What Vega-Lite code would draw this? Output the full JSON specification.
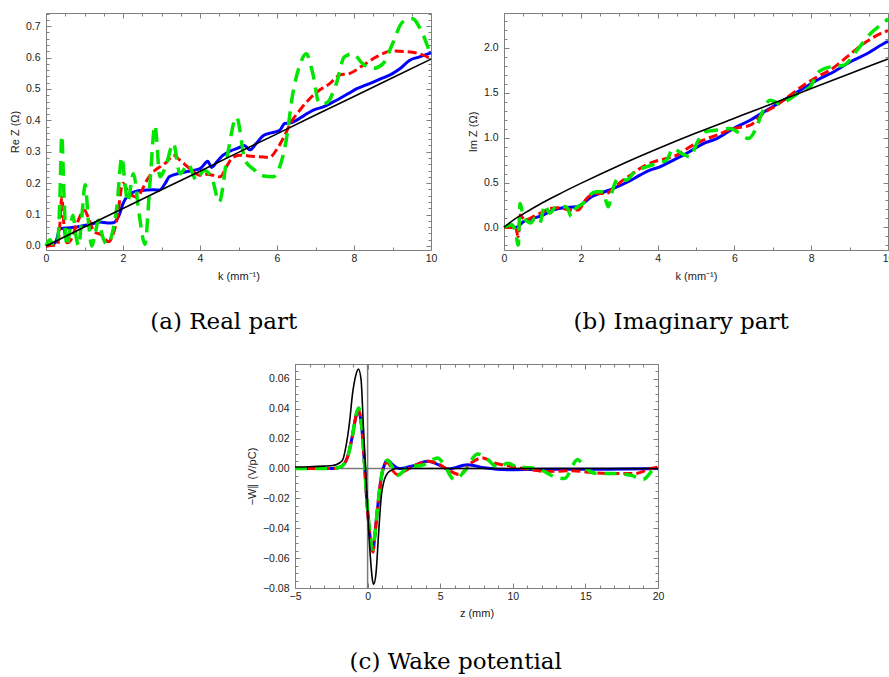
{
  "$schema": "https://vega.github.io/schema/vega-lite/v6.json",
  "padding": {"left": 8, "top": 11, "right": 0, "bottom": 0},
  "background": "white",
  "config": {
    "view": {"stroke": "#7f7f7f", "strokeWidth": 1},
    "axis": {
      "domain": false, "grid": false, "tickColor": "#7f7f7f", "tickWidth": 1,
      "labelFont": "Liberation Sans", "labelFontSize": 10.5, "labelColor": "#222",
      "titleFont": "Liberation Sans", "titleFontSize": 11, "titleFontWeight": "normal", "titleColor": "#222"
    },
    "title": {"font": "DejaVu Serif", "fontSize": 23, "fontWeight": "normal", "color": "#000", "orient": "bottom", "anchor": "middle", "frame": "bounds", "offset": 29}
  },
  "datasets": {
    "a": [
      {"s":"k","k":0,"v":0},{"s":"k","k":1,"v":0.06},{"s":"k","k":2,"v":0.119},{"s":"k","k":3,"v":0.179},{"s":"k","k":4,"v":0.238},{"s":"k","k":5,"v":0.298},{"s":"k","k":6,"v":0.357},{"s":"k","k":7,"v":0.417},{"s":"k","k":8,"v":0.476},{"s":"k","k":9,"v":0.536},{"s":"k","k":10,"v":0.595},
      {"s":"b","k":0,"v":0},{"s":"b","k":0.15,"v":0.003},{"s":"b","k":0.25,"v":0.012},{"s":"b","k":0.3,"v":0.03},{"s":"b","k":0.35,"v":0.055},{"s":"b","k":0.5,"v":0.057},{"s":"b","k":0.8,"v":0.06},{"s":"b","k":1.0,"v":0.065},{"s":"b","k":1.2,"v":0.07},{"s":"b","k":1.4,"v":0.076},{"s":"b","k":1.6,"v":0.073},{"s":"b","k":1.75,"v":0.074},{"s":"b","k":1.9,"v":0.098},{"s":"b","k":2.0,"v":0.135},{"s":"b","k":2.1,"v":0.156},{"s":"b","k":2.2,"v":0.167},{"s":"b","k":2.4,"v":0.176},{"s":"b","k":2.6,"v":0.178},{"s":"b","k":2.8,"v":0.179},{"s":"b","k":2.95,"v":0.178},{"s":"b","k":3.1,"v":0.2},{"s":"b","k":3.2,"v":0.22},{"s":"b","k":3.5,"v":0.232},{"s":"b","k":3.8,"v":0.24},{"s":"b","k":4.0,"v":0.246},{"s":"b","k":4.15,"v":0.265},{"s":"b","k":4.2,"v":0.27},{"s":"b","k":4.3,"v":0.25},{"s":"b","k":4.45,"v":0.27},{"s":"b","k":4.6,"v":0.289},{"s":"b","k":4.8,"v":0.303},{"s":"b","k":5.0,"v":0.312},{"s":"b","k":5.15,"v":0.32},{"s":"b","k":5.3,"v":0.306},{"s":"b","k":5.45,"v":0.325},{"s":"b","k":5.65,"v":0.352},{"s":"b","k":5.85,"v":0.36},{"s":"b","k":6.07,"v":0.368},{"s":"b","k":6.2,"v":0.39},{"s":"b","k":6.35,"v":0.392},{"s":"b","k":6.5,"v":0.4},{"s":"b","k":6.7,"v":0.415},{"s":"b","k":6.93,"v":0.432},{"s":"b","k":7.2,"v":0.443},{"s":"b","k":7.4,"v":0.455},{"s":"b","k":7.62,"v":0.469},{"s":"b","k":7.85,"v":0.485},{"s":"b","k":8.06,"v":0.5},{"s":"b","k":8.3,"v":0.512},{"s":"b","k":8.5,"v":0.522},{"s":"b","k":8.75,"v":0.535},{"s":"b","k":9.0,"v":0.549},{"s":"b","k":9.2,"v":0.565},{"s":"b","k":9.44,"v":0.591},{"s":"b","k":9.7,"v":0.602},{"s":"b","k":10,"v":0.615},
      {"s":"r","k":0,"v":0},{"s":"r","k":0.3,"v":0.003},{"s":"r","k":0.35,"v":0.05},{"s":"r","k":0.41,"v":0.156},{"s":"r","k":0.47,"v":0.06},{"s":"r","k":0.55,"v":0.01},{"s":"r","k":0.65,"v":0.02},{"s":"r","k":0.8,"v":0.07},{"s":"r","k":1.0,"v":0.114},{"s":"r","k":1.1,"v":0.09},{"s":"r","k":1.25,"v":0.045},{"s":"r","k":1.45,"v":0.035},{"s":"r","k":1.62,"v":0.013},{"s":"r","k":1.75,"v":0.04},{"s":"r","k":1.84,"v":0.082},{"s":"r","k":2.0,"v":0.2},{"s":"r","k":2.14,"v":0.17},{"s":"r","k":2.36,"v":0.156},{"s":"r","k":2.5,"v":0.18},{"s":"r","k":2.62,"v":0.209},{"s":"r","k":2.83,"v":0.241},{"s":"r","k":3.0,"v":0.255},{"s":"r","k":3.13,"v":0.267},{"s":"r","k":3.31,"v":0.289},{"s":"r","k":3.48,"v":0.273},{"s":"r","k":3.74,"v":0.246},{"s":"r","k":4.0,"v":0.225},{"s":"r","k":4.2,"v":0.228},{"s":"r","k":4.34,"v":0.225},{"s":"r","k":4.52,"v":0.22},{"s":"r","k":4.7,"v":0.255},{"s":"r","k":4.82,"v":0.278},{"s":"r","k":5.03,"v":0.289},{"s":"r","k":5.4,"v":0.285},{"s":"r","k":5.81,"v":0.282},{"s":"r","k":5.98,"v":0.305},{"s":"r","k":6.16,"v":0.342},{"s":"r","k":6.37,"v":0.395},{"s":"r","k":6.59,"v":0.432},{"s":"r","k":6.85,"v":0.469},{"s":"r","k":7.1,"v":0.496},{"s":"r","k":7.37,"v":0.517},{"s":"r","k":7.62,"v":0.544},{"s":"r","k":7.88,"v":0.549},{"s":"r","k":8.23,"v":0.575},{"s":"r","k":8.58,"v":0.602},{"s":"r","k":9.0,"v":0.621},{"s":"r","k":9.35,"v":0.619},{"s":"r","k":9.7,"v":0.612},{"s":"r","k":10,"v":0.597},
      {"s":"g","k":0,"v":0},{"s":"g","k":0.1,"v":0.02},{"s":"g","k":0.2,"v":0},{"s":"g","k":0.3,"v":0.01},{"s":"g","k":0.36,"v":0.15},{"s":"g","k":0.41,"v":0.352},{"s":"g","k":0.47,"v":0.15},{"s":"g","k":0.54,"v":0},{"s":"g","k":0.62,"v":0.05},{"s":"g","k":0.7,"v":0.098},{"s":"g","k":0.78,"v":0.03},{"s":"g","k":0.85,"v":0},{"s":"g","k":0.92,"v":0.08},{"s":"g","k":1.02,"v":0.195},{"s":"g","k":1.1,"v":0.08},{"s":"g","k":1.19,"v":0},{"s":"g","k":1.28,"v":0.04},{"s":"g","k":1.36,"v":0.082},{"s":"g","k":1.47,"v":0.03},{"s":"g","k":1.58,"v":0.005},{"s":"g","k":1.7,"v":0.03},{"s":"g","k":1.84,"v":0.124},{"s":"g","k":1.97,"v":0.283},{"s":"g","k":2.05,"v":0.2},{"s":"g","k":2.12,"v":0.14},{"s":"g","k":2.27,"v":0.23},{"s":"g","k":2.42,"v":0.1},{"s":"g","k":2.57,"v":0.005},{"s":"g","k":2.7,"v":0.2},{"s":"g","k":2.83,"v":0.384},{"s":"g","k":2.96,"v":0.22},{"s":"g","k":3.1,"v":0.25},{"s":"g","k":3.31,"v":0.326},{"s":"g","k":3.48,"v":0.23},{"s":"g","k":3.69,"v":0.26},{"s":"g","k":3.91,"v":0.209},{"s":"g","k":4.1,"v":0.24},{"s":"g","k":4.3,"v":0.22},{"s":"g","k":4.5,"v":0.14},{"s":"g","k":4.7,"v":0.28},{"s":"g","k":4.95,"v":0.41},{"s":"g","k":5.17,"v":0.273},{"s":"g","k":5.42,"v":0.241},{"s":"g","k":5.55,"v":0.225},{"s":"g","k":5.9,"v":0.22},{"s":"g","k":6.07,"v":0.252},{"s":"g","k":6.24,"v":0.337},{"s":"g","k":6.41,"v":0.485},{"s":"g","k":6.59,"v":0.575},{"s":"g","k":6.76,"v":0.612},{"s":"g","k":6.93,"v":0.549},{"s":"g","k":7.1,"v":0.453},{"s":"g","k":7.28,"v":0.455},{"s":"g","k":7.54,"v":0.517},{"s":"g","k":7.75,"v":0.602},{"s":"g","k":7.97,"v":0.612},{"s":"g","k":8.23,"v":0.58},{"s":"g","k":8.49,"v":0.565},{"s":"g","k":8.75,"v":0.58},{"s":"g","k":9.0,"v":0.644},{"s":"g","k":9.26,"v":0.713},{"s":"g","k":9.52,"v":0.724},{"s":"g","k":9.74,"v":0.687},{"s":"g","k":10,"v":0.605}
    ],
    "b": [
      {"s":"k","k":0,"v":0},{"s":"k","k":0.25,"v":0.085},{"s":"k","k":0.5,"v":0.15},{"s":"k","k":1,"v":0.275},{"s":"k","k":1.5,"v":0.385},{"s":"k","k":2,"v":0.49},{"s":"k","k":3,"v":0.69},{"s":"k","k":4,"v":0.875},{"s":"k","k":5,"v":1.05},{"s":"k","k":6,"v":1.215},{"s":"k","k":7,"v":1.38},{"s":"k","k":8,"v":1.545},{"s":"k","k":9,"v":1.71},{"s":"k","k":10,"v":1.875},
      {"s":"b","k":0,"v":0},{"s":"b","k":0.28,"v":0},{"s":"b","k":0.37,"v":0.01},{"s":"b","k":0.5,"v":0.063},{"s":"b","k":0.76,"v":0.1},{"s":"b","k":1.02,"v":0.138},{"s":"b","k":1.28,"v":0.193},{"s":"b","k":1.54,"v":0.219},{"s":"b","k":1.89,"v":0.23},{"s":"b","k":2.06,"v":0.267},{"s":"b","k":2.28,"v":0.341},{"s":"b","k":2.5,"v":0.378},{"s":"b","k":2.84,"v":0.433},{"s":"b","k":3.23,"v":0.508},{"s":"b","k":3.54,"v":0.582},{"s":"b","k":3.8,"v":0.638},{"s":"b","k":4.06,"v":0.674},{"s":"b","k":4.32,"v":0.73},{"s":"b","k":4.67,"v":0.804},{"s":"b","k":4.97,"v":0.878},{"s":"b","k":5.19,"v":0.933},{"s":"b","k":5.54,"v":0.989},{"s":"b","k":5.97,"v":1.1},{"s":"b","k":6.41,"v":1.193},{"s":"b","k":6.84,"v":1.304},{"s":"b","k":7.28,"v":1.416},{"s":"b","k":7.71,"v":1.527},{"s":"b","k":8.15,"v":1.638},{"s":"b","k":8.58,"v":1.73},{"s":"b","k":9.01,"v":1.841},{"s":"b","k":9.45,"v":1.933},{"s":"b","k":9.88,"v":2.044},{"s":"b","k":10,"v":2.07},
      {"s":"r","k":0,"v":0},{"s":"r","k":0.3,"v":0},{"s":"r","k":0.37,"v":-0.103},{"s":"r","k":0.42,"v":0.138},{"s":"r","k":0.54,"v":0.082},{"s":"r","k":0.76,"v":0.119},{"s":"r","k":1.02,"v":0.174},{"s":"r","k":1.19,"v":0.211},{"s":"r","k":1.45,"v":0.22},{"s":"r","k":1.71,"v":0.193},{"s":"r","k":1.93,"v":0.193},{"s":"r","k":2.15,"v":0.322},{"s":"r","k":2.41,"v":0.378},{"s":"r","k":2.67,"v":0.378},{"s":"r","k":2.84,"v":0.433},{"s":"r","k":3.1,"v":0.527},{"s":"r","k":3.36,"v":0.6},{"s":"r","k":3.54,"v":0.656},{"s":"r","k":3.89,"v":0.73},{"s":"r","k":4.23,"v":0.767},{"s":"r","k":4.5,"v":0.804},{"s":"r","k":4.84,"v":0.897},{"s":"r","k":5.19,"v":0.971},{"s":"r","k":5.54,"v":1.027},{"s":"r","k":5.97,"v":1.1},{"s":"r","k":6.41,"v":1.138},{"s":"r","k":6.75,"v":1.267},{"s":"r","k":7.1,"v":1.36},{"s":"r","k":7.45,"v":1.471},{"s":"r","k":7.8,"v":1.582},{"s":"r","k":8.15,"v":1.674},{"s":"r","k":8.49,"v":1.749},{"s":"r","k":8.93,"v":1.897},{"s":"r","k":9.36,"v":2.044},{"s":"r","k":9.8,"v":2.156},{"s":"r","k":10,"v":2.19},
      {"s":"g","k":0,"v":0},{"s":"g","k":0.2,"v":0.03},{"s":"g","k":0.3,"v":-0.05},{"s":"g","k":0.37,"v":-0.196},{"s":"g","k":0.42,"v":0.267},{"s":"g","k":0.5,"v":0.12},{"s":"g","k":0.6,"v":0.07},{"s":"g","k":0.7,"v":0.05},{"s":"g","k":0.8,"v":0.1},{"s":"g","k":0.93,"v":0.044},{"s":"g","k":1.06,"v":0.249},{"s":"g","k":1.19,"v":0.16},{"s":"g","k":1.36,"v":0.23},{"s":"g","k":1.62,"v":0.23},{"s":"g","k":1.76,"v":0.119},{"s":"g","k":1.84,"v":0.2},{"s":"g","k":2.06,"v":0.267},{"s":"g","k":2.19,"v":0.341},{"s":"g","k":2.41,"v":0.396},{"s":"g","k":2.58,"v":0.396},{"s":"g","k":2.71,"v":0.23},{"s":"g","k":2.84,"v":0.433},{"s":"g","k":2.97,"v":0.544},{"s":"g","k":3.19,"v":0.527},{"s":"g","k":3.4,"v":0.62},{"s":"g","k":3.71,"v":0.674},{"s":"g","k":3.97,"v":0.711},{"s":"g","k":4.23,"v":0.749},{"s":"g","k":4.41,"v":0.878},{"s":"g","k":4.63,"v":0.822},{"s":"g","k":4.84,"v":0.786},{"s":"g","k":5.06,"v":0.971},{"s":"g","k":5.23,"v":1.063},{"s":"g","k":5.54,"v":1.083},{"s":"g","k":5.88,"v":1.1},{"s":"g","k":6.15,"v":1.044},{"s":"g","k":6.36,"v":0.989},{"s":"g","k":6.58,"v":1.119},{"s":"g","k":6.71,"v":1.267},{"s":"g","k":6.93,"v":1.416},{"s":"g","k":7.19,"v":1.378},{"s":"g","k":7.45,"v":1.433},{"s":"g","k":7.71,"v":1.508},{"s":"g","k":7.97,"v":1.563},{"s":"g","k":8.19,"v":1.73},{"s":"g","k":8.49,"v":1.786},{"s":"g","k":8.84,"v":1.804},{"s":"g","k":9.19,"v":1.97},{"s":"g","k":9.54,"v":2.156},{"s":"g","k":9.8,"v":2.249},{"s":"g","k":10,"v":2.32}
    ],
    "c": [
      {"s":"k","z":-5,"v":0.001},{"s":"k","z":-4,"v":0.0012},{"s":"k","z":-3,"v":0.0016},{"s":"k","z":-2.4,"v":0.002},{"s":"k","z":-1.94,"v":0.0037},{"s":"k","z":-1.71,"v":0.006},{"s":"k","z":-1.49,"v":0.0149},{"s":"k","z":-1.25,"v":0.0305},{"s":"k","z":-1.03,"v":0.0506},{"s":"k","z":-0.8,"v":0.0629},{"s":"k","z":-0.63,"v":0.0667},{"s":"k","z":-0.45,"v":0.0595},{"s":"k","z":-0.29,"v":0.0283},{"s":"k","z":-0.15,"v":0.0015},{"s":"k","z":0,"v":-0.0275},{"s":"k","z":0.17,"v":-0.0565},{"s":"k","z":0.35,"v":-0.0755},{"s":"k","z":0.42,"v":-0.0775},{"s":"k","z":0.58,"v":-0.07},{"s":"k","z":0.76,"v":-0.0431},{"s":"k","z":0.92,"v":-0.0208},{"s":"k","z":1.16,"v":-0.0074},{"s":"k","z":1.5,"v":-0.0019},{"s":"k","z":2,"v":0},{"s":"k","z":5,"v":0},{"s":"k","z":10,"v":0},{"s":"k","z":20,"v":0},
      {"s":"b","z":-5,"v":0},{"s":"b","z":-2.5,"v":0},{"s":"b","z":-1.94,"v":0.0008},{"s":"b","z":-1.71,"v":0.002},{"s":"b","z":-1.37,"v":0.008},{"s":"b","z":-1.03,"v":0.0227},{"s":"b","z":-0.8,"v":0.035},{"s":"b","z":-0.62,"v":0.038},{"s":"b","z":-0.41,"v":0.0283},{"s":"b","z":-0.22,"v":0.0037},{"s":"b","z":-0.06,"v":-0.0208},{"s":"b","z":0.12,"v":-0.0409},{"s":"b","z":0.3,"v":-0.0543},{"s":"b","z":0.38,"v":-0.055},{"s":"b","z":0.47,"v":-0.0476},{"s":"b","z":0.7,"v":-0.0253},{"s":"b","z":0.92,"v":-0.0074},{"s":"b","z":1.16,"v":0.0026},{"s":"b","z":1.38,"v":0.0055},{"s":"b","z":1.73,"v":0.0025},{"s":"b","z":2.19,"v":0},{"s":"b","z":3,"v":0.0015},{"s":"b","z":4.14,"v":0.0048},{"s":"b","z":5,"v":0.002},{"s":"b","z":5.52,"v":-0.0003},{"s":"b","z":6.89,"v":0.0026},{"s":"b","z":8.04,"v":0.0005},{"s":"b","z":9.65,"v":-0.0008},{"s":"b","z":12,"v":-0.0005},{"s":"b","z":15,"v":-0.0005},{"s":"b","z":20,"v":0},
      {"s":"r","z":-5,"v":0},{"s":"r","z":-2.5,"v":0},{"s":"r","z":-1.94,"v":0.0008},{"s":"r","z":-1.71,"v":0.002},{"s":"r","z":-1.37,"v":0.008},{"s":"r","z":-1.03,"v":0.0227},{"s":"r","z":-0.8,"v":0.035},{"s":"r","z":-0.62,"v":0.039},{"s":"r","z":-0.41,"v":0.0283},{"s":"r","z":-0.22,"v":0.0037},{"s":"r","z":-0.06,"v":-0.0208},{"s":"r","z":0.12,"v":-0.0409},{"s":"r","z":0.3,"v":-0.0543},{"s":"r","z":0.38,"v":-0.056},{"s":"r","z":0.47,"v":-0.0476},{"s":"r","z":0.7,"v":-0.0253},{"s":"r","z":0.92,"v":-0.0074},{"s":"r","z":1.16,"v":0.0026},{"s":"r","z":1.38,"v":0.004},{"s":"r","z":1.7,"v":-0.001},{"s":"r","z":2.07,"v":-0.0041},{"s":"r","z":2.5,"v":-0.002},{"s":"r","z":2.99,"v":0.0007},{"s":"r","z":4.14,"v":0.0048},{"s":"r","z":4.83,"v":0.0033},{"s":"r","z":5.52,"v":-0.0007},{"s":"r","z":6.32,"v":-0.004},{"s":"r","z":7.12,"v":0.0037},{"s":"r","z":7.93,"v":0.0071},{"s":"r","z":8.73,"v":0.0037},{"s":"r","z":9.88,"v":0.0015},{"s":"r","z":11.25,"v":-0.0008},{"s":"r","z":12.4,"v":-0.002},{"s":"r","z":14,"v":-0.0015},{"s":"r","z":15.85,"v":-0.003},{"s":"r","z":17.2,"v":-0.0034},{"s":"r","z":18.38,"v":-0.0034},{"s":"r","z":19.52,"v":0},{"s":"r","z":20,"v":0.001},
      {"s":"g","z":-5,"v":0},{"s":"g","z":-2.5,"v":0},{"s":"g","z":-1.94,"v":0.0008},{"s":"g","z":-1.71,"v":0.002},{"s":"g","z":-1.37,"v":0.008},{"s":"g","z":-1.03,"v":0.0227},{"s":"g","z":-0.8,"v":0.036},{"s":"g","z":-0.62,"v":0.0406},{"s":"g","z":-0.41,"v":0.029},{"s":"g","z":-0.22,"v":0.004},{"s":"g","z":-0.06,"v":-0.02},{"s":"g","z":0.12,"v":-0.04},{"s":"g","z":0.3,"v":-0.053},{"s":"g","z":0.38,"v":-0.054},{"s":"g","z":0.47,"v":-0.047},{"s":"g","z":0.7,"v":-0.025},{"s":"g","z":0.92,"v":-0.007},{"s":"g","z":1.16,"v":0.003},{"s":"g","z":1.38,"v":0.0055},{"s":"g","z":1.7,"v":0.001},{"s":"g","z":2.07,"v":-0.0045},{"s":"g","z":2.76,"v":0.0007},{"s":"g","z":3.9,"v":0.0026},{"s":"g","z":4.83,"v":0.0071},{"s":"g","z":5.17,"v":0.004},{"s":"g","z":5.98,"v":-0.0074},{"s":"g","z":6.66,"v":-0.002},{"s":"g","z":7.58,"v":0.0098},{"s":"g","z":8.27,"v":0.006},{"s":"g","z":8.96,"v":0.0007},{"s":"g","z":9.65,"v":0.0035},{"s":"g","z":10.34,"v":0.001},{"s":"g","z":11.25,"v":0.0005},{"s":"g","z":12.18,"v":-0.002},{"s":"g","z":12.63,"v":-0.0045},{"s":"g","z":13.55,"v":-0.0067},{"s":"g","z":14.47,"v":0.006},{"s":"g","z":14.93,"v":0.0007},{"s":"g","z":15.85,"v":-0.0034},{"s":"g","z":17,"v":-0.0034},{"s":"g","z":18.14,"v":-0.0045},{"s":"g","z":18.95,"v":-0.0074},{"s":"g","z":19.75,"v":0},{"s":"g","z":20,"v":0.0015}
    ]
  },
  "spacing": 28,
  "vconcat": [
    {
      "spacing": 27,
      "hconcat": [
        {
          "width": 385, "height": 237,
          "data": {"name": "a"},
          "title": {"text": "(a) Real part"},
          "encoding": {
            "x": {"field": "k", "type": "quantitative", "scale": {"domain": [0, 10], "nice": false, "zero": false}, "axis": null},
            "y": {"field": "v", "type": "quantitative", "scale": {"domain": [-0.013, 0.742], "nice": false, "zero": false}, "axis": null}
          },
          "layer": [
            {"transform": [{"filter": "datum.s === 'b'"}], "mark": {"type": "line", "color": "#0000ff", "strokeWidth": 3, "interpolate": "monotone"},
             "encoding": {
               "x": {"field": "k", "type": "quantitative", "scale": {"domain": [0, 10], "nice": false, "zero": false}, "title": "k (mm⁻¹)",
                 "axis": {"orient": "bottom", "values": [0,0.5,1,1.5,2,2.5,3,3.5,4,4.5,5,5.5,6,6.5,7,7.5,8,8.5,9,9.5,10], "format": "d", "labelExpr": "datum.value % 2 === 0 ? datum.label : ''", "tickSize": {"condition": {"test": "datum.value % 2 === 0", "value": -5}, "value": -3}, "labelPadding": 8, "titlePadding": 7, "labelFlush": false}},
               "y": {"field": "v", "type": "quantitative", "scale": {"domain": [-0.013, 0.742], "nice": false, "zero": false}, "title": "Re Z (Ω)",
                 "axis": {"orient": "left", "values": [0,0.02,0.04,0.06,0.08,0.1,0.12,0.14,0.16,0.18,0.2,0.22,0.24,0.26,0.28,0.3,0.32,0.34,0.36,0.38,0.4,0.42,0.44,0.46,0.48,0.5,0.52,0.54,0.56,0.58,0.6,0.62,0.64,0.66,0.68,0.7,0.72,0.74], "format": ".1f", "labelExpr": "round(datum.value*100) % 10 === 0 ? datum.label : ''", "tickSize": {"condition": {"test": "round(datum.value*100) % 10 === 0", "value": -5}, "value": -3}, "labelPadding": 11, "titlePadding": 5, "labelFlush": false}}
             }},
            {"transform": [{"filter": "datum.s === 'r'"}], "mark": {"type": "line", "color": "#ff0000", "strokeWidth": 3, "strokeDash": [9, 4], "interpolate": "monotone"}},
            {"transform": [{"filter": "datum.s === 'g'"}], "mark": {"type": "line", "color": "#00e600", "strokeWidth": 3.5, "strokeDash": [14, 8], "interpolate": "monotone"}},
            {"transform": [{"filter": "datum.s === 'k'"}], "mark": {"type": "line", "color": "#000000", "strokeWidth": 1.6},
             "encoding": {
               "x": {"field": "k", "type": "quantitative", "scale": {"domain": [0, 10], "nice": false, "zero": false}, "title": null,
                 "axis": {"orient": "top", "values": [0,0.5,1,1.5,2,2.5,3,3.5,4,4.5,5,5.5,6,6.5,7,7.5,8,8.5,9,9.5,10], "labels": false, "tickSize": {"condition": {"test": "datum.value % 2 === 0", "value": -5}, "value": -3}}},
               "y": {"field": "v", "type": "quantitative", "scale": {"domain": [-0.013, 0.742], "nice": false, "zero": false}, "title": null,
                 "axis": {"orient": "right", "values": [0,0.02,0.04,0.06,0.08,0.1,0.12,0.14,0.16,0.18,0.2,0.22,0.24,0.26,0.28,0.3,0.32,0.34,0.36,0.38,0.4,0.42,0.44,0.46,0.48,0.5,0.52,0.54,0.56,0.58,0.6,0.62,0.64,0.66,0.68,0.7,0.72,0.74], "labels": false, "tickSize": {"condition": {"test": "round(datum.value*100) % 10 === 0", "value": -5}, "value": -3}}}
             }}
          ],
          "resolve": {"axis": {"x": "independent", "y": "independent"}}
        },
        {
          "width": 384, "height": 237,
          "data": {"name": "b"},
          "title": {"text": "(b) Imaginary part"},
          "encoding": {
            "x": {"field": "k", "type": "quantitative", "scale": {"domain": [0, 10], "nice": false, "zero": false}, "axis": null},
            "y": {"field": "v", "type": "quantitative", "scale": {"domain": [-0.251, 2.386], "nice": false, "zero": false}, "axis": null}
          },
          "layer": [
            {"transform": [{"filter": "datum.s === 'b'"}], "mark": {"type": "line", "color": "#0000ff", "strokeWidth": 3, "interpolate": "monotone"},
             "encoding": {
               "x": {"field": "k", "type": "quantitative", "scale": {"domain": [0, 10], "nice": false, "zero": false}, "title": "k (mm⁻¹)",
                 "axis": {"orient": "bottom", "values": [0,0.5,1,1.5,2,2.5,3,3.5,4,4.5,5,5.5,6,6.5,7,7.5,8,8.5,9,9.5,10], "format": "d", "labelExpr": "datum.value % 2 === 0 ? datum.label : ''", "tickSize": {"condition": {"test": "datum.value % 2 === 0", "value": -5}, "value": -3}, "labelPadding": 8, "titlePadding": 7, "labelFlush": false}},
               "y": {"field": "v", "type": "quantitative", "scale": {"domain": [-0.251, 2.386], "nice": false, "zero": false}, "title": "Im Z (Ω)",
                 "axis": {"orient": "left", "values": [-0.2,-0.1,0,0.1,0.2,0.3,0.4,0.5,0.6,0.7,0.8,0.9,1,1.1,1.2,1.3,1.4,1.5,1.6,1.7,1.8,1.9,2,2.1,2.2,2.3], "format": ".1f", "labelExpr": "round(datum.value*10) % 5 === 0 ? datum.label : ''", "tickSize": {"condition": {"test": "round(datum.value*10) % 5 === 0", "value": -5}, "value": -3}, "labelPadding": 11, "titlePadding": 5, "labelFlush": false}}
             }},
            {"transform": [{"filter": "datum.s === 'r'"}], "mark": {"type": "line", "color": "#ff0000", "strokeWidth": 3, "strokeDash": [9, 4], "interpolate": "monotone"}},
            {"transform": [{"filter": "datum.s === 'g'"}], "mark": {"type": "line", "color": "#00e600", "strokeWidth": 3.5, "strokeDash": [14, 8], "interpolate": "monotone"}},
            {"transform": [{"filter": "datum.s === 'k'"}], "mark": {"type": "line", "color": "#000000", "strokeWidth": 1.6, "interpolate": "monotone"},
             "encoding": {
               "x": {"field": "k", "type": "quantitative", "scale": {"domain": [0, 10], "nice": false, "zero": false}, "title": null,
                 "axis": {"orient": "top", "values": [0,0.5,1,1.5,2,2.5,3,3.5,4,4.5,5,5.5,6,6.5,7,7.5,8,8.5,9,9.5,10], "labels": false, "tickSize": {"condition": {"test": "datum.value % 2 === 0", "value": -5}, "value": -3}}},
               "y": {"field": "v", "type": "quantitative", "scale": {"domain": [-0.251, 2.386], "nice": false, "zero": false}, "title": null,
                 "axis": {"orient": "right", "values": [-0.2,-0.1,0,0.1,0.2,0.3,0.4,0.5,0.6,0.7,0.8,0.9,1,1.1,1.2,1.3,1.4,1.5,1.6,1.7,1.8,1.9,2,2.1,2.2,2.3], "labels": false, "tickSize": {"condition": {"test": "round(datum.value*10) % 5 === 0", "value": -5}, "value": -3}}}
             }}
          ],
          "resolve": {"axis": {"x": "independent", "y": "independent"}}
        }
      ]
    },
    {
      "spacing": 0,
      "hconcat": [
        {"width": 199, "height": 10, "data": {"values": [{}]}, "mark": {"type": "point", "opacity": 0}, "view": {"stroke": null}},
        {
          "width": 363, "height": 224,
          "data": {"name": "c"},
          "title": {"text": "(c) Wake potential", "offset": 32},
          "layer": [
            {"data": {"values": [{"z": 0}]}, "mark": {"type": "rule", "color": "#7a7a7a", "strokeWidth": 1.5}, "encoding": {"x": {"field": "z", "type": "quantitative", "scale": {"domain": [-5, 20], "nice": false, "zero": false}, "axis": null}}},
            {"data": {"values": [{"v": 0}]}, "mark": {"type": "rule", "color": "#7a7a7a", "strokeWidth": 1.5}, "encoding": {"y": {"field": "v", "type": "quantitative", "scale": {"domain": [-0.08, 0.07], "nice": false, "zero": false}, "axis": null}}},
            {"transform": [{"filter": "datum.s === 'b'"}], "mark": {"type": "line", "color": "#0000ff", "strokeWidth": 3, "interpolate": "monotone"},
             "encoding": {
               "x": {"field": "z", "type": "quantitative", "scale": {"domain": [-5, 20], "nice": false, "zero": false}, "title": "z (mm)",
                 "axis": {"orient": "bottom", "values": [-5,-4,-3,-2,-1,0,1,2,3,4,5,6,7,8,9,10,11,12,13,14,15,16,17,18,19,20], "format": "d", "labelExpr": "datum.value % 5 === 0 ? datum.label : ''", "tickSize": {"condition": {"test": "datum.value % 5 === 0", "value": -5}, "value": -3}, "labelPadding": 8, "titlePadding": 6, "labelFlush": false}},
               "y": {"field": "v", "type": "quantitative", "scale": {"domain": [-0.08, 0.07], "nice": false, "zero": false}, "title": "−W∥ (V/pC)",
                 "axis": {"orient": "left", "values": [-0.08,-0.075,-0.07,-0.065,-0.06,-0.055,-0.05,-0.045,-0.04,-0.035,-0.03,-0.025,-0.02,-0.015,-0.01,-0.005,0,0.005,0.01,0.015,0.02,0.025,0.03,0.035,0.04,0.045,0.05,0.055,0.06,0.065,0.07], "format": ".2f", "labelExpr": "round(datum.value*1000) % 20 === 0 ? datum.label : ''", "tickSize": {"condition": {"test": "round(datum.value*1000) % 20 === 0", "value": -5}, "value": -3}, "labelPadding": 11, "titlePadding": 5, "labelFlush": false}}
             }},
            {"transform": [{"filter": "datum.s === 'r'"}], "mark": {"type": "line", "color": "#ff0000", "strokeWidth": 3, "strokeDash": [9, 4], "interpolate": "monotone"},
             "encoding": {
               "x": {"field": "z", "type": "quantitative", "scale": {"domain": [-5, 20], "nice": false, "zero": false}, "axis": null},
               "y": {"field": "v", "type": "quantitative", "scale": {"domain": [-0.08, 0.07], "nice": false, "zero": false}, "axis": null}
             }},
            {"transform": [{"filter": "datum.s === 'g'"}], "mark": {"type": "line", "color": "#00e600", "strokeWidth": 3.5, "strokeDash": [12, 8], "interpolate": "monotone"},
             "encoding": {
               "x": {"field": "z", "type": "quantitative", "scale": {"domain": [-5, 20], "nice": false, "zero": false}, "axis": null},
               "y": {"field": "v", "type": "quantitative", "scale": {"domain": [-0.08, 0.07], "nice": false, "zero": false}, "axis": null}
             }},
            {"transform": [{"filter": "datum.s === 'k'"}], "mark": {"type": "line", "color": "#000000", "strokeWidth": 1.6, "interpolate": "monotone"},
             "encoding": {
               "x": {"field": "z", "type": "quantitative", "scale": {"domain": [-5, 20], "nice": false, "zero": false}, "title": null,
                 "axis": {"orient": "top", "values": [-5,-4,-3,-2,-1,0,1,2,3,4,5,6,7,8,9,10,11,12,13,14,15,16,17,18,19,20], "labels": false, "tickSize": {"condition": {"test": "datum.value % 5 === 0", "value": -5}, "value": -3}}},
               "y": {"field": "v", "type": "quantitative", "scale": {"domain": [-0.08, 0.07], "nice": false, "zero": false}, "title": null,
                 "axis": {"orient": "right", "values": [-0.08,-0.075,-0.07,-0.065,-0.06,-0.055,-0.05,-0.045,-0.04,-0.035,-0.03,-0.025,-0.02,-0.015,-0.01,-0.005,0,0.005,0.01,0.015,0.02,0.025,0.03,0.035,0.04,0.045,0.05,0.055,0.06,0.065,0.07], "labels": false, "tickSize": {"condition": {"test": "round(datum.value*1000) % 20 === 0", "value": -5}, "value": -3}}}
             }}
          ],
          "resolve": {"axis": {"x": "independent", "y": "independent"}}
        }
      ]
    }
  ]
}
